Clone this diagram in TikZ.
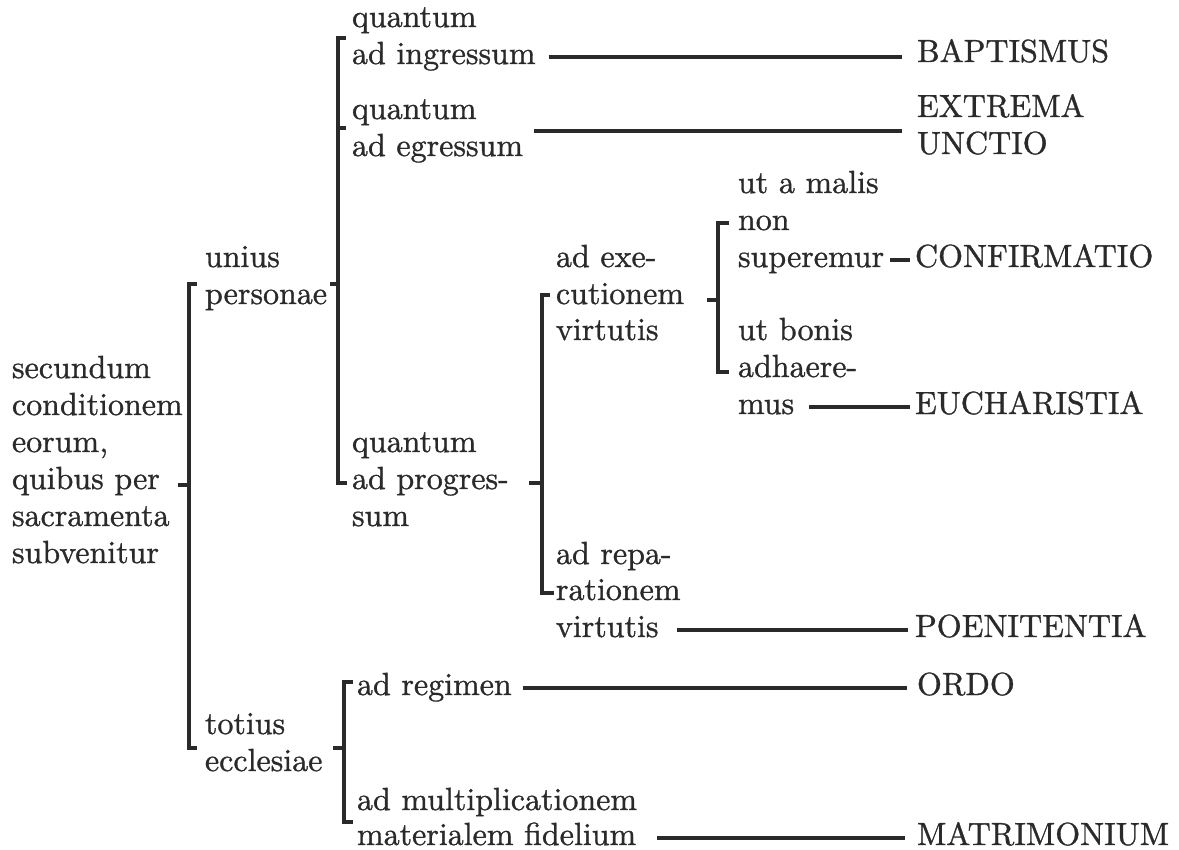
\documentclass[tikz,border=0pt]{standalone}
\usepackage{fontspec}
\usetikzlibrary{calc}
\newfontfamily\chartfont{lmroman10-regular.otf}[FakeBold=1.0]
\definecolor{ink}{RGB}{42,42,42}
\tikzset{
  lbl/.style={anchor=base west, yshift=-7pt, inner sep=0pt, outer sep=0pt, text=ink,
              font=\chartfont\fontsize{32}{37}\selectfont},
  rule/.style={draw=ink, line width=3.2pt, line cap=butt, line join=miter},
}
\begin{document}
\begin{tikzpicture}[x=1pt,y=-1pt]
\useasboundingbox[fill=white] (0,0) rectangle (1179,850);

% column 1
\node[lbl] (c1a) at (12,371) {secundum};
\node[lbl] (c1b) at (12,408) {conditionem};
\node[lbl] (c1c) at (12,445) {eorum,};
\node[lbl] (c1d) at (12,482) {quibus per};
\node[lbl] (c1e) at (12,519) {sacramenta};
\node[lbl] (c1f) at (12,556) {subvenitur};

% column 2
\node[lbl] (un1) at (205,260) {unius};
\node[lbl] (un2) at (205,297) {personae};
\node[lbl] (to1) at (205,727) {totius};
\node[lbl] (to2) at (205,764) {ecclesiae};

% column 3
\node[lbl] (in1) at (352,20) {quantum};
\node[lbl] (in2) at (352,57) {ad ingressum};
\node[lbl] (eg1) at (352,112) {quantum};
\node[lbl] (eg2) at (352,149) {ad egressum};
\node[lbl] (pr1) at (352,445) {quantum};
\node[lbl] (pr2) at (352,482) {ad progres-};
\node[lbl] (pr3) at (352,519) {sum};
\node[lbl] (rg)  at (357,688) {ad regimen};
\node[lbl] (mu1) at (357,803) {ad multiplicationem};
\node[lbl] (mu2) at (357,838) {materialem fidelium};

% column 4
\node[lbl] (ex1) at (556,260) {ad exe-};
\node[lbl] (ex2) at (556,297) {cutionem};
\node[lbl] (ex3) at (556,333) {virtutis};
\node[lbl] (re1) at (556,557) {ad repa-};
\node[lbl] (re2) at (556,593) {rationem};
\node[lbl] (re3) at (556,630) {virtutis};

% column 5
\node[lbl] (ma1) at (738,186) {ut a malis};
\node[lbl] (ma2) at (738,223) {non};
\node[lbl] (ma3) at (738,260) {superemur};
\node[lbl] (bo1) at (738,333) {ut bonis};
\node[lbl] (bo2) at (738,370) {adhaere-};
\node[lbl] (bo3) at (738,407) {mus};

% sacraments
\node[lbl] (bapt)  at (917,55)  {BAPTISMUS};
\node[lbl] (extr1) at (917,110) {EXTREMA};
\node[lbl] (extr2) at (917,147) {UNCTIO};
\node[lbl] (conf)  at (915,260) {CONFIRMATIO};
\node[lbl] (euch)  at (915,407) {EUCHARISTIA};
\node[lbl] (poen)  at (915,630) {POENITENTIA};
\node[lbl] (ordo)  at (917,688) {ORDO};
\node[lbl] (matr)  at (917,838) {MATRIMONIUM};

% horizontal connectors (y offset -7 = from baseline up to mid-height)
\draw[rule] ($(in2.base east)+(13,-7)$) -- ($(in2.base east -| bapt.west)+(-15,-7)$);
\draw[rule] ($(eg2.base east)+(11,-25)$) -- ($(eg2.base east -| extr1.west)+(-15,-25)$);
\draw[rule] ($(ma3.base east)+(6,-7)$) -- ($(conf.base west)+(-5,-7)$);
\draw[rule] ($(bo3.base east)+(15,-7)$) -- ($(euch.base west)+(-5,-7)$);
\draw[rule] ($(re3.base east)+(18,-7)$) -- ($(poen.base west)+(-7,-7)$);
\draw[rule] ($(rg.base east)+(11,-7)$) -- ($(ordo.base west)+(-10,-7)$);
\draw[rule] ($(mu2.base east)+(21,-7)$) -- ($(matr.base west)+(-12,-7)$);

% bracket 1
\coordinate (b1t) at (197,284); \coordinate (b1b) at (197,748);
\coordinate (b1j) at (189,485); \coordinate (b1s) at (178,485);
\draw[rule] (b1t) -- (189,284) -- (189,748) -- (b1b);
\draw[rule] (b1s) -- (b1j);

% bracket 2
\coordinate (b2t) at (346,38); \coordinate (b2b) at (347,483);
\coordinate (b2m) at (346,128);
\coordinate (b2j) at (338,284); \coordinate (b2s) at (330,284);
\draw[rule] (b2t) -- (338,38) -- (338,483) -- (b2b);
\draw[rule] (338,128) -- (b2m);
\draw[rule] (b2s) -- (b2j);

% bracket 3
\coordinate (b3t) at (550,295); \coordinate (b3b) at (554,593);
\coordinate (b3j) at (542,483); \coordinate (b3s) at (529,483);
\draw[rule] (b3t) -- (542,295) -- (542,593) -- (b3b);
\draw[rule] (b3s) -- (b3j);

% bracket 4
\coordinate (b4t) at (729,223); \coordinate (b4b) at (729,372);
\coordinate (b4j) at (716,300); \coordinate (b4s) at (707,300);
\draw[rule] (b4t) -- (718,223) -- (718,372) -- (b4b);
\draw[rule] (b4s) -- (b4j);

% bracket 5
\coordinate (b5t) at (353,682); \coordinate (b5b) at (353,822);
\coordinate (b5j) at (344,748); \coordinate (b5s) at (333,748);
\draw[rule] (b5t) -- (344,682) -- (344,822) -- (b5b);
\draw[rule] (b5s) -- (b5j);
\end{tikzpicture}
\end{document}
